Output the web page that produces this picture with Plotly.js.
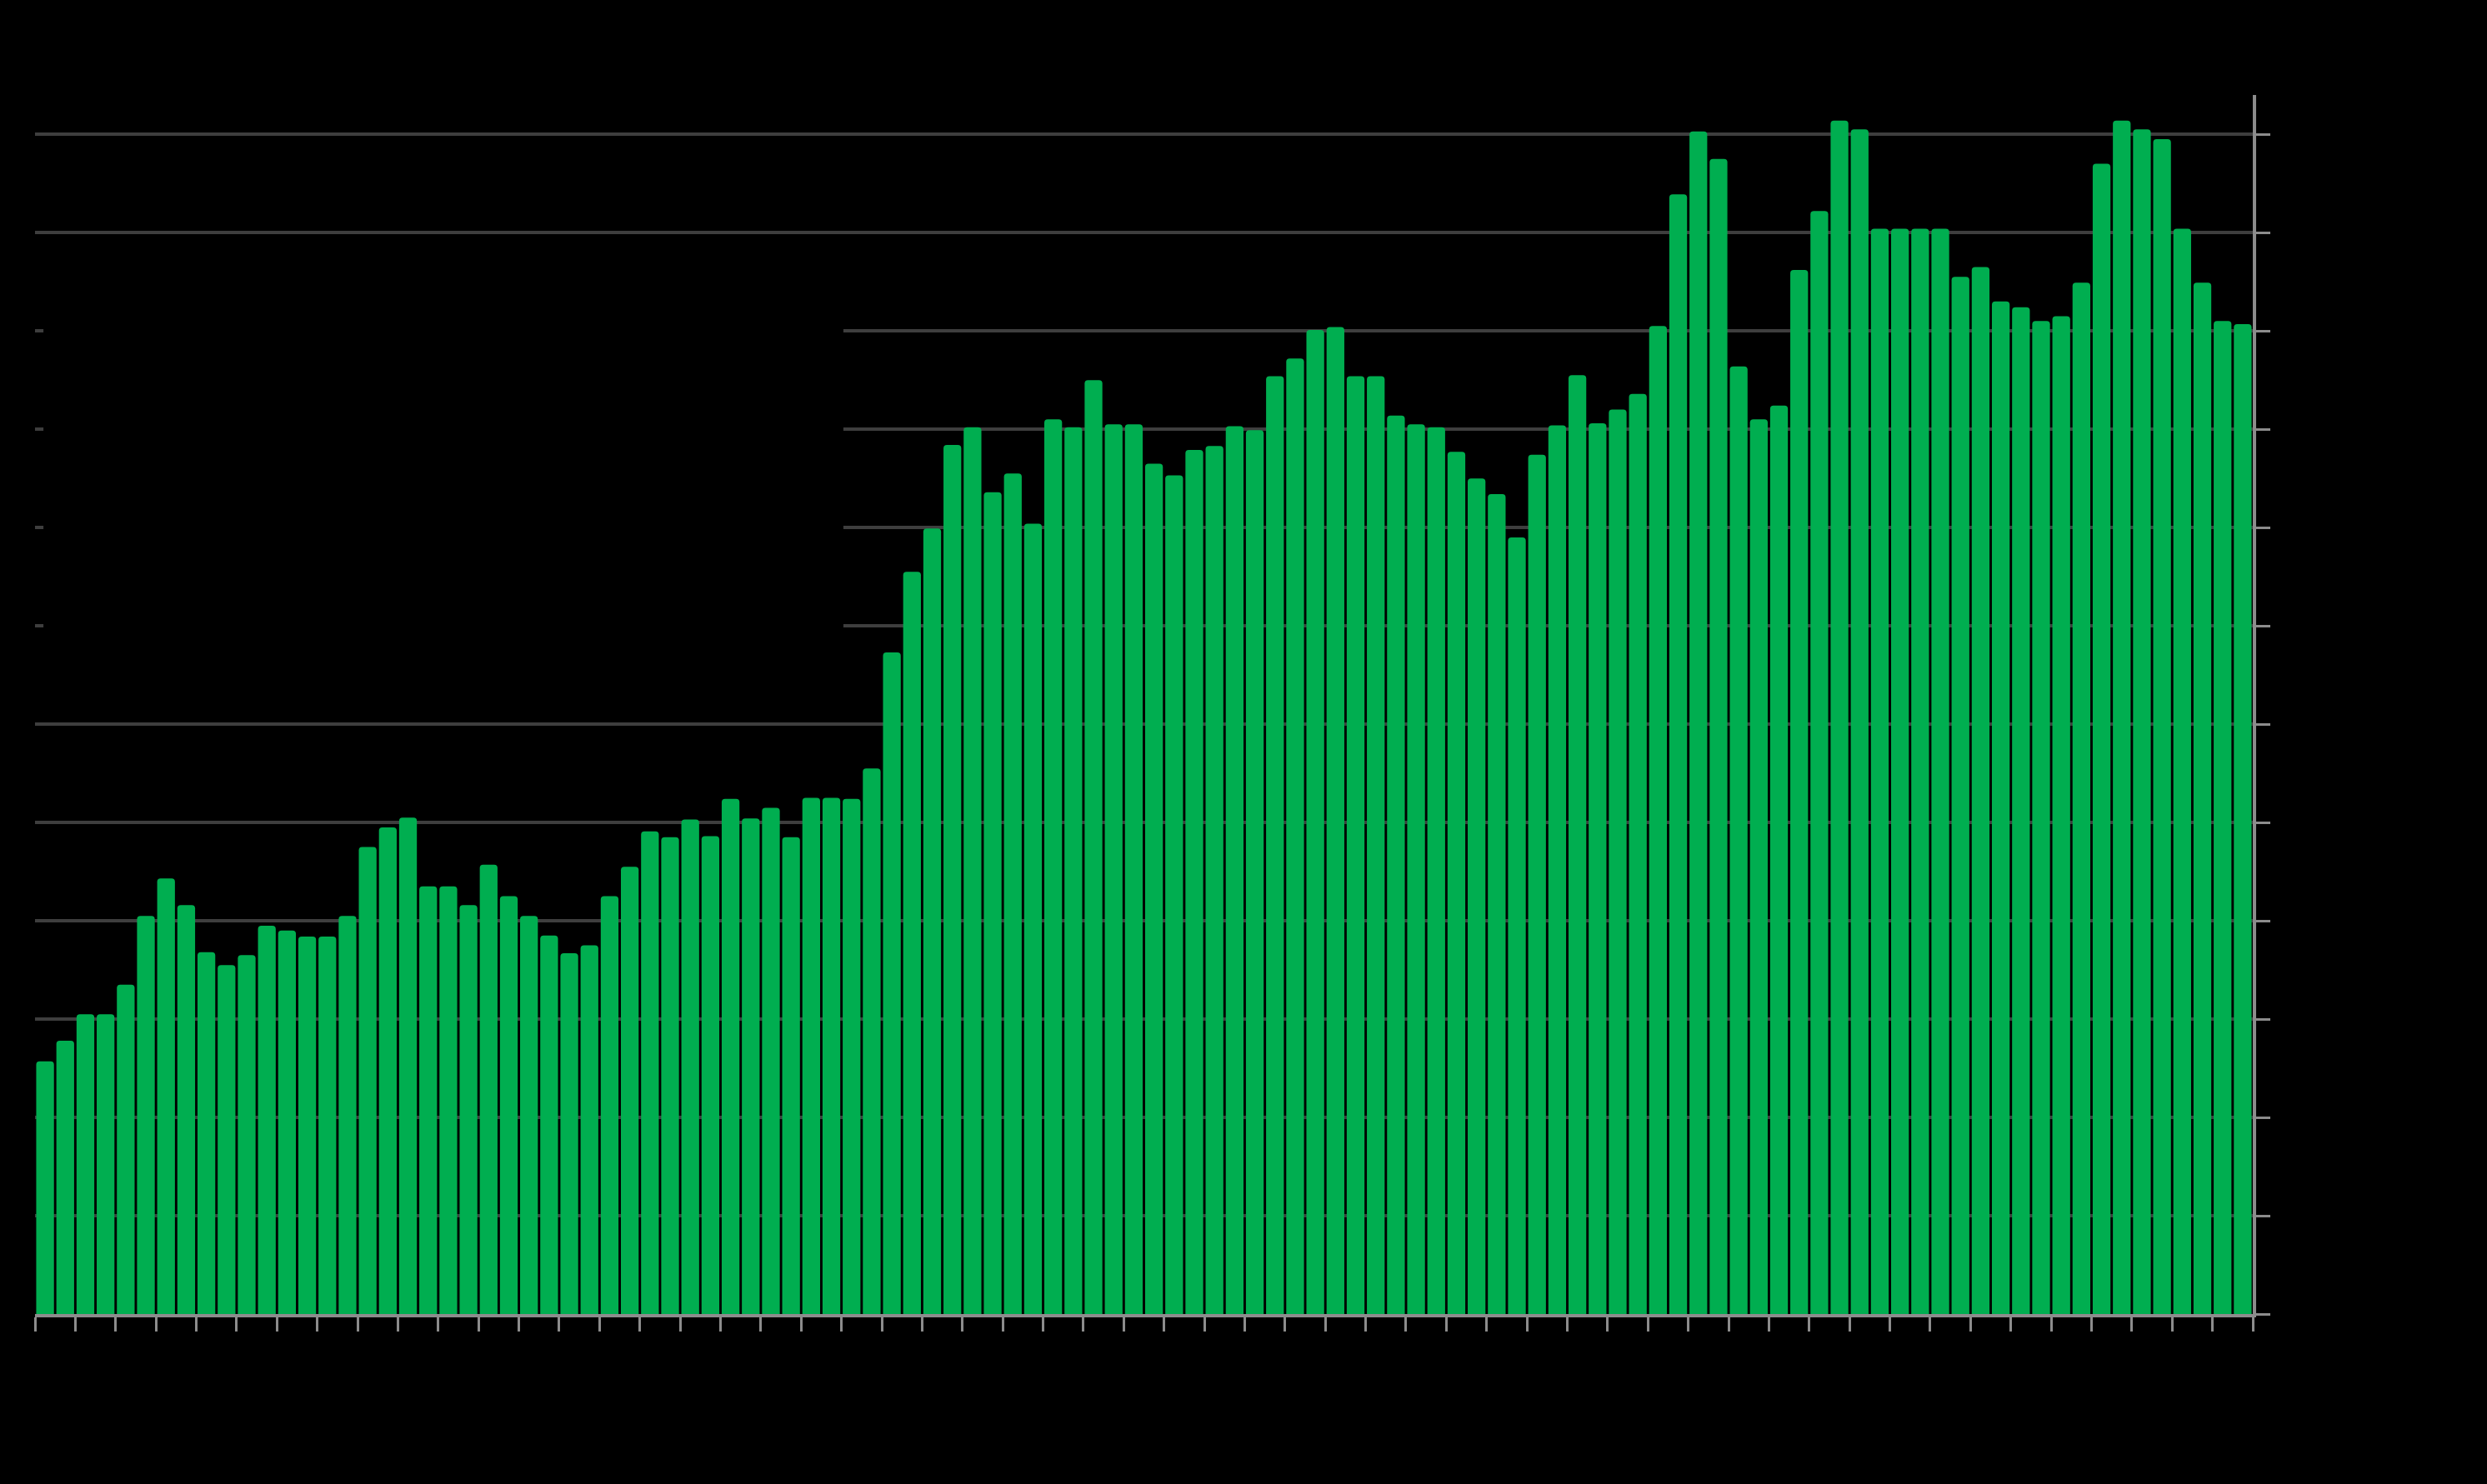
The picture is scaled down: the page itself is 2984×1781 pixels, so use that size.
<!DOCTYPE html>
<html>
<head>
<meta charset="utf-8">
<script src="https://cdn.plot.ly/plotly-3.0.1.min.js"></script>
<style>
  html, body { margin: 0; padding: 0; background: #000; }
  #chart { width: 2984px; height: 1781px; }
</style>
</head>
<body>
<div id="chart"></div>
<script>
// Bar values (110 consecutive periods)
const values = [
  2.57, 2.78, 3.05, 3.05, 3.35, 4.05, 4.43, 4.16, 3.68, 3.55,
  3.65, 3.95, 3.90, 3.84, 3.84, 4.05, 4.75, 4.95, 5.05, 4.35,
  4.35, 4.16, 4.57, 4.25, 4.05, 3.85, 3.67, 3.75, 4.25, 4.55,
  4.91, 4.85, 5.03, 4.86, 5.24, 5.04, 5.15, 4.85, 5.25, 5.25,
  5.24, 5.55, 6.73, 7.55, 7.99, 8.84, 9.02, 8.36, 8.55, 8.04,
  9.10, 9.02, 9.50, 9.05, 9.05, 8.65, 8.53, 8.79, 8.83, 9.03,
  8.99, 9.54, 9.72, 10.01, 10.04, 9.54, 9.54, 9.14, 9.05, 9.02,
  8.77, 8.50, 8.34, 7.90, 8.74, 9.04, 9.55, 9.06, 9.20, 9.36,
  10.05, 11.39, 12.03, 11.75, 9.64, 9.10, 9.24, 10.62, 11.22, 12.14,
  12.05, 11.04, 11.04, 11.04, 11.04, 10.55, 10.65, 10.30, 10.24, 10.10,
  10.15, 10.49, 11.70, 12.14, 12.05, 11.95, 11.04, 10.49, 10.10, 10.07
];
// Category positions (one per bar)
const categories = values.map((_, i) => i);

const barColor = 'rgb(0,174,80)';
const gridColor = 'rgb(62,62,62)';
const axisColor = 'rgb(140,140,140)';

const trace = {
  type: 'bar',
  x: categories,
  y: values,
  marker: { color: barColor, line: { width: 0 }, cornerradius: 4 },
  hoverinfo: 'skip',
  showlegend: false
};

const layout = {
  width: 2984,
  height: 1781,
  paper_bgcolor: '#000',
  plot_bgcolor: '#000',
  margin: { l: 42, r: 281, t: 114, b: 204, pad: 0 },
  bargap: 0.12,
  showlegend: false,
  xaxis: {
    range: [-0.5, values.length - 0.5],
    tickmode: 'linear',
    tick0: -0.5,
    dtick: 2,
    ticks: 'outside',
    ticklen: 17,
    tickwidth: 3,
    tickcolor: axisColor,
    showticklabels: false,
    showgrid: false,
    zeroline: false,
    showline: true,
    linecolor: axisColor,
    linewidth: 4
  },
  yaxis: {
    side: 'right',
    range: [0, 12.4],
    tickmode: 'linear',
    tick0: 0,
    dtick: 1,
    ticks: 'outside',
    ticklen: 17,
    tickwidth: 3,
    tickcolor: axisColor,
    showticklabels: false,
    showgrid: true,
    gridcolor: gridColor,
    gridwidth: 4,
    zeroline: false,
    showline: true,
    linecolor: axisColor,
    linewidth: 4
  },
  shapes: [{
    type: 'rect',
    layer: 'above',
    xref: 'paper', yref: 'y',
    x0: 0.0038, x1: 0.3645,
    y0: 6.4, y1: 10.6,
    fillcolor: '#000',
    line: { width: 0 }
  }]
};

Plotly.newPlot('chart', [trace], layout, { staticPlot: true, displayModeBar: false });
</script>
</body>
</html>
